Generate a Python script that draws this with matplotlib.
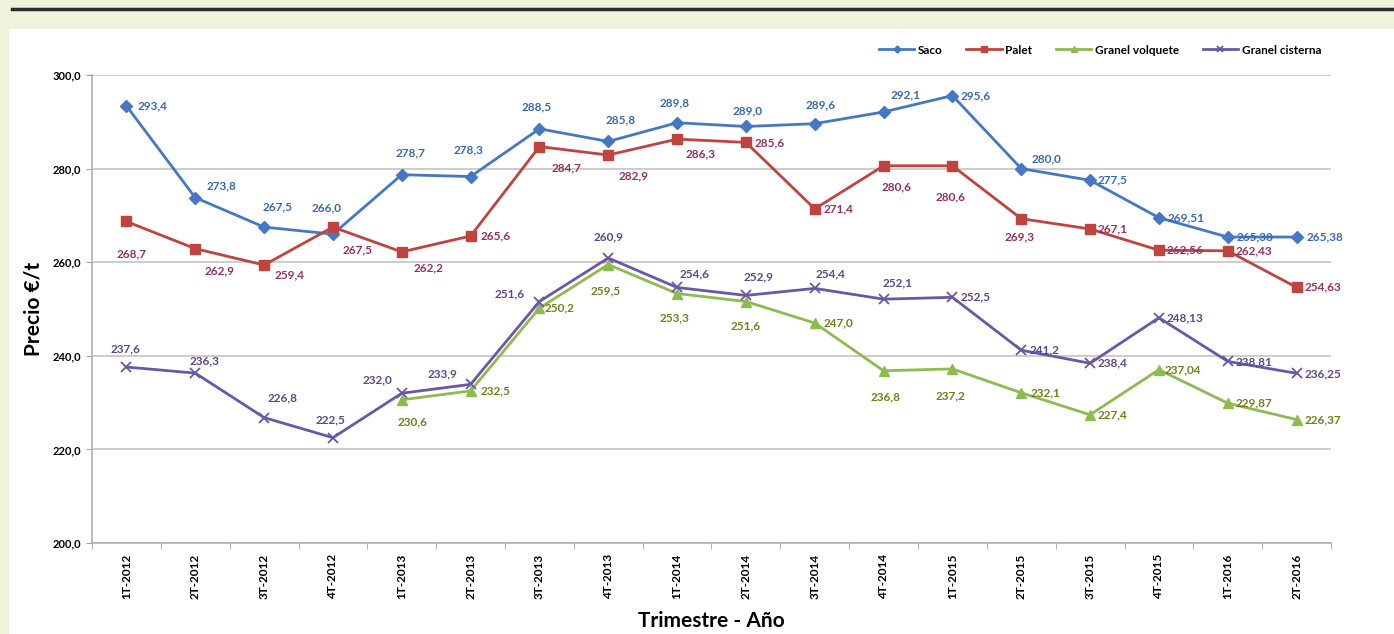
import numpy as np
import matplotlib.pyplot as plt
from matplotlib.patches import Rectangle
from matplotlib.lines import Line2D

plt.rcParams['font.family'] = ['Lato', 'DejaVu Sans']

# Quarterly prices, €/t
quarters = ['1T-2012', '2T-2012', '3T-2012', '4T-2012',
            '1T-2013', '2T-2013', '3T-2013', '4T-2013',
            '1T-2014', '2T-2014', '3T-2014', '4T-2014',
            '1T-2015', '2T-2015', '3T-2015', '4T-2015',
            '1T-2016', '2T-2016']
saco = [293.4, 273.8, 267.5, 266.0, 278.7, 278.3, 288.5, 285.8, 289.8,
        289.0, 289.6, 292.1, 295.6, 280.0, 277.5, 269.51, 265.38, 265.38]
palet = [268.7, 262.9, 259.4, 267.5, 262.2, 265.6, 284.7, 282.9, 286.3,
         285.6, 271.4, 280.6, 280.6, 269.3, 267.1, 262.56, 262.43, 254.63]
granel_volquete = [np.nan, np.nan, np.nan, np.nan, 230.6, 232.5, 250.2, 259.5, 253.3,
                   251.6, 247.0, 236.8, 237.2, 232.1, 227.4, 237.04, 229.87, 226.37]
granel_cisterna = [237.6, 236.3, 226.8, 222.5, 232.0, 233.9, 251.6, 260.9, 254.6,
                   252.9, 254.4, 252.1, 252.5, 241.2, 238.4, 248.13, 238.81, 236.25]

# label offsets in pixels (dx, dy up) from each point
off_saco = [(26, 0), (26, 12), (13, 20), (-6, 26), (9, 22), (-2, 27), (-3, 22), (12, 22),
            (-2, 20), (2, 16), (6, 19), (22, 17), (23, 0), (25, 10), (22, 0), (27, 0),
            (27, 0), (28, 0)]
off_palet = [(5, -32), (24, -22), (25, -10), (25, -23), (27, -16), (25, 0), (27, -21),
             (25, -21), (23, -15), (24, 0), (24, 0), (13, -21), (-2, -31), (-2, -18),
             (22, 0), (26, 0), (26, 0), (26, 0)]
off_volq = [(0, 0)] * 4 + [(11, -22), (25, 0), (20, 0), (-3, -26), (-3, -24), (0, -24),
                           (24, 0), (2, -26), (-2, -27), (24, 0), (22, 0), (24, 0),
                           (26, 0), (26, 0)]
off_cist = [(-1, 18), (9, 12), (18, 20), (-2, 18), (-24, 13), (-28, 11), (-30, 8),
            (0, 21), (17, 14), (13, 19), (16, 15), (14, 16), (23, 0), (23, 0), (22, 0),
            (26, 0), (26, 0), (26, 0)]

series = [
    ('Saco', saco, '#4477c4', 'D', 6, '#3a69b0', off_saco),
    ('Palet', palet, '#c0433f', 's', 7, '#96305e', off_palet),
    ('Granel volquete', granel_volquete, '#8dbb4f', '^', 7, '#72801c', off_volq),
    ('Granel cisterna', granel_cisterna, '#6a58a6', 'x', 7, '#58498a', off_cist),
]

fig = plt.figure(figsize=(13.94, 6.34), dpi=100)
fig.patch.set_facecolor('#f1f2dc')
# white panel and the dark rule above it
fig.add_artist(Rectangle((9 / 1394, 0), 1 - 9 / 1394, 1 - 29 / 634,
                         transform=fig.transFigure, facecolor='white',
                         edgecolor='none', zorder=0))
fig.add_artist(Line2D([12 / 1394, 1], [1 - 9 / 634] * 2, transform=fig.transFigure,
                      color='#2b2b2b', lw=2.5))

ax = fig.add_axes([92 / 1394, 1 - 543 / 634, (1331 - 92) / 1394, (543 - 75) / 634])
ax.set_facecolor('none')
x = np.arange(len(quarters))

def fmt(v):
    if abs(v * 10 - round(v * 10)) > 1e-6:
        return f'{v:.2f}'.replace('.', ',')
    return f'{v:.1f}'.replace('.', ',')

for name, vals, col, mk, ms, tcol, offs in series:
    vals = np.array(vals, dtype=float)
    mew = 1.3 if mk == 'x' else 1
    ax.plot(x, vals, color=col, lw=2, marker=mk, ms=ms, mew=mew,
            mec=col, mfc=col, label=name, zorder=3)
    for xi, v, (dx, dy) in zip(x, vals, offs):
        if np.isnan(v):
            continue
        ax.annotate(fmt(v), (xi, v), xytext=(dx, dy), textcoords='offset pixels',
                    ha='center', va='center', fontsize=8.5, fontweight='bold',
                    color=tcol, zorder=4)

ax.set_xlim(-0.5, len(quarters) - 0.5)
ax.set_ylim(200, 300)
ax.set_yticks(np.arange(200, 301, 20))
ax.set_yticklabels([f'{t:.1f}'.replace('.', ',') for t in np.arange(200, 301, 20)],
                   fontsize=8, fontweight='bold')
ax.set_xticks(x)
ax.set_xticklabels(quarters, rotation=90, fontsize=8.5, fontweight='bold')
ax.set_xticks(np.arange(-0.5, len(quarters)), minor=True)
ax.tick_params(axis='x', which='major', length=0, pad=8)
ax.tick_params(axis='x', which='minor', length=4, color='#a6a6a6', direction='out')
ax.tick_params(axis='y', length=4, color='#a6a6a6', pad=4)
ax.grid(axis='y', color='#c4c4c4', lw=1.2, zorder=0)
for s in ['top', 'right']:
    ax.spines[s].set_visible(False)
for s in ['left', 'bottom']:
    ax.spines[s].set_color('#b0b0b0')
    ax.spines[s].set_linewidth(1.2)

ax.set_ylabel('Precio €/t', fontsize=15, fontweight='bold', labelpad=6)
ax.set_xlabel('Trimestre - Año', fontsize=15, fontweight='bold', labelpad=8)

fig.legend(loc='center', bbox_to_anchor=(1100 / 1394, 1 - 50 / 634), ncol=4,
           frameon=False, prop={'size': 8.5, 'weight': 'bold'}, handlelength=3.0,
           columnspacing=2.0, handletextpad=0.3, markerscale=0.6)

fig.savefig('out.png', dpi=100, facecolor=fig.get_facecolor())
